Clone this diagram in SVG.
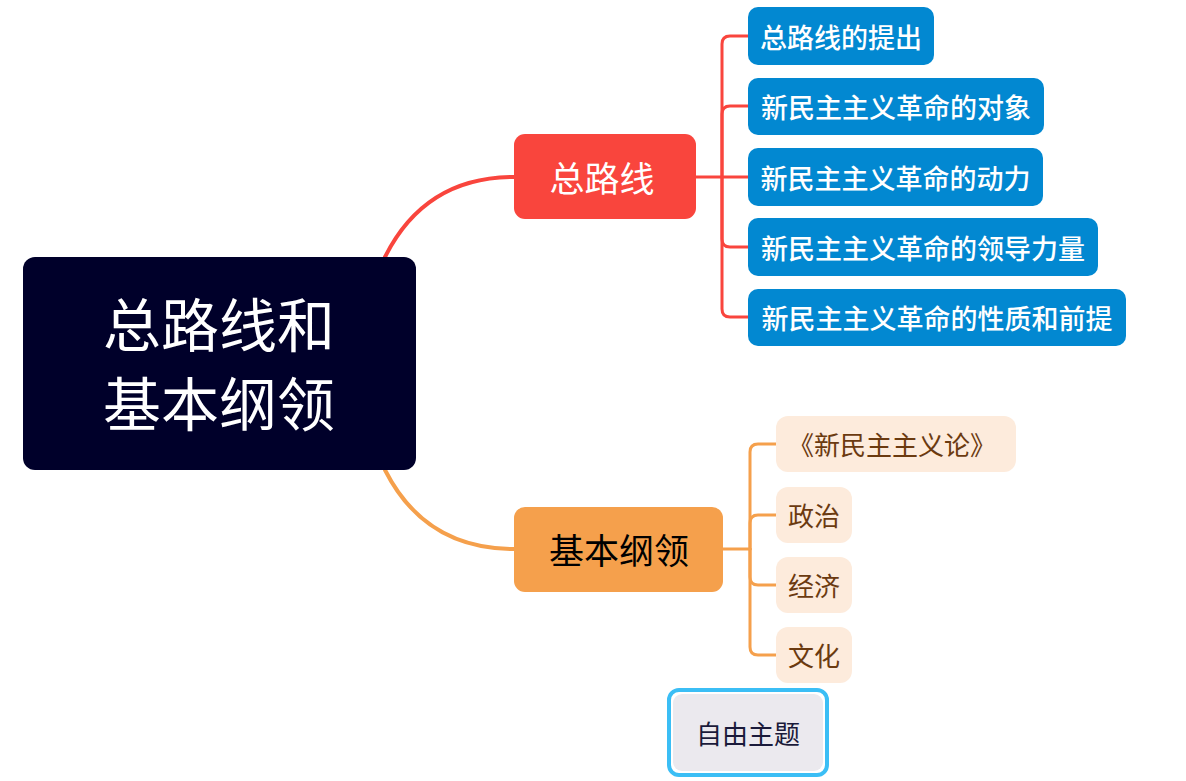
<svg xmlns="http://www.w3.org/2000/svg" width="1186" height="781" viewBox="0 0 1186 781">
<style>
text{font-family:"Noto Sans CJK SC","Noto Sans",sans-serif;text-anchor:middle;dominant-baseline:central}
.root{fill:#00002A}
.red{fill:#F9453D}
.org{fill:#F5A04C}
.blue{fill:#0288D1}
.lt{fill:#FDEBDC}
.tw{fill:#FFFFFF}
.tb{fill:#000000}
.tbr{fill:#6B3A10}
.bt{font-size:27px;font-weight:500}
.cr{fill:none;stroke:#F9453D;stroke-width:3;stroke-linecap:round}
.co{fill:none;stroke:#F5A04C;stroke-width:3;stroke-linecap:round}
</style>
<rect width="1186" height="781" fill="#FFFFFF"/>
<g id="connectors">
<path d="M385,257 Q425,177 514,177" class="cr" style="stroke-width:4"/>
<path d="M385,470 Q425,549 514,549" class="co" style="stroke-width:4"/>
<path class="cr" d="M696,177 H748"/>
<path class="cr" d="M722,177 V44 Q722,36 730,36 H748"/>
<path class="cr" d="M722,177 V114 Q722,106 730,106 H748"/>
<path class="cr" d="M722,177 V239 Q722,247 730,247 H748"/>
<path class="cr" d="M722,177 V309 Q722,317 730,317 H748"/>
<path class="co" d="M723,549 H750"/>
<path class="co" d="M750,549 V452 Q750,444 758,444 H776"/>
<path class="co" d="M750,549 V523 Q750,515 758,515 H776"/>
<path class="co" d="M750,549 V577 Q750,585 758,585 H776"/>
<path class="co" d="M750,549 V647 Q750,655 758,655 H776"/>
</g>
<g id="root">
<rect class="root" x="23" y="257" width="393" height="213" rx="12"/>
<text class="tw" x="219" y="322" font-size="58">总路线和</text>
<text class="tw" x="219" y="401" font-size="58">基本纲领</text>
</g>
<g id="n-zongluxian">
<rect class="red" x="514" y="134" width="182" height="85" rx="11"/>
<text class="tw" x="602" y="176" font-size="35">总路线</text>
</g>
<g id="n-jibengangling">
<rect class="org" x="514" y="507" width="209" height="85" rx="11"/>
<text class="tb" x="619" y="548" font-size="35">基本纲领</text>
</g>
<g id="n-tichu">
<rect class="blue" x="748" y="7" width="186" height="58" rx="10"/>
<text class="tw bt" x="841" y="36">总路线的提出</text>
</g>
<g id="n-duixiang">
<rect class="blue" x="748" y="78" width="296" height="57" rx="10"/>
<text class="tw bt" x="896" y="106">新民主主义革命的对象</text>
</g>
<g id="n-dongli">
<rect class="blue" x="748" y="148" width="295" height="58" rx="10"/>
<text class="tw bt" x="895.5" y="177">新民主主义革命的动力</text>
</g>
<g id="n-lingdao">
<rect class="blue" x="748" y="218" width="350" height="58" rx="10"/>
<text class="tw bt" x="923" y="247">新民主主义革命的领导力量</text>
</g>
<g id="n-xingzhi">
<rect class="blue" x="748" y="289" width="378" height="57" rx="10"/>
<text class="tw bt" x="937" y="317">新民主主义革命的性质和前提</text>
</g>
<g id="n-lun">
<rect class="lt" x="776" y="416" width="240" height="56" rx="12"/>
<text class="tbr" x="892" y="443" font-size="26">《新民主主义论》</text>
</g>
<g id="n-zhengzhi">
<rect class="lt" x="776" y="487" width="76" height="56" rx="12"/>
<text class="tbr" x="814" y="514" font-size="26">政治</text>
</g>
<g id="n-jingji">
<rect class="lt" x="776" y="557" width="76" height="56" rx="12"/>
<text class="tbr" x="814" y="584" font-size="26">经济</text>
</g>
<g id="n-wenhua">
<rect class="lt" x="776" y="627" width="76" height="56" rx="12"/>
<text class="tbr" x="814" y="654" font-size="26">文化</text>
</g>
<g id="n-free">
<rect x="669" y="690" width="158" height="85" rx="10" fill="#FFFFFF" stroke="#3BBEF5" stroke-width="4"/>
<rect x="673" y="694" width="150" height="77" rx="9" fill="#EBE9EE"/>
<text x="748" y="732" font-size="26" fill="#1A1A3A">自由主题</text>
</g>
</svg>
